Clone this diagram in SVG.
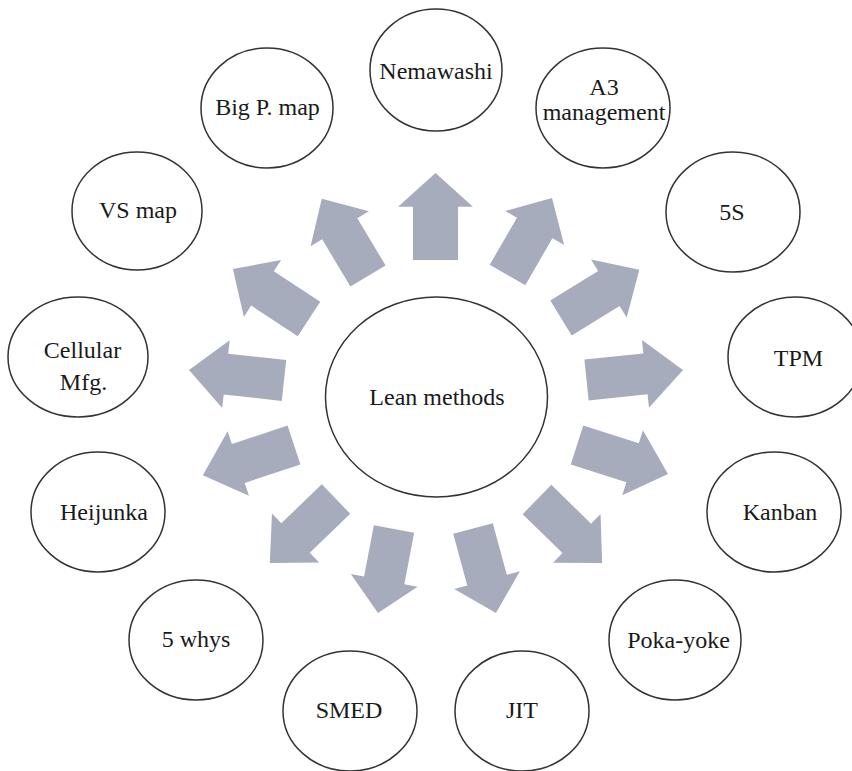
<svg xmlns="http://www.w3.org/2000/svg" xmlns:xlink="http://www.w3.org/1999/xlink" width="852" height="771" viewBox="0 0 852 771">
  <style>
    .node ellipse { fill: #ffffff; stroke: #333333; stroke-width: 1.5; }
    .node text { font-family: "Liberation Serif", "Times New Roman", serif; font-size: 24px; fill: #1a1a1a; text-anchor: middle; }
    .arrow { fill: #a6acbc; }
  </style>
  <defs>
    <!-- block arrow, tail at origin, pointing along +x -->
    <path id="blockArrow" d="M0,-20.5 H55 V-34 L90,0 L55,34 V20.5 H0 Z"/>
  </defs>
  <rect width="852" height="771" fill="#ffffff"/>

  <g id="connectors" class="arrow">
    <use xlink:href="#blockArrow" transform="translate(435.5,260) rotate(-90) scale(0.967,1.1)"/>
    <use xlink:href="#blockArrow" transform="translate(507.5,275) rotate(-60) scale(0.989,1)"/>
    <use xlink:href="#blockArrow" transform="translate(561,318) rotate(-31.6) scale(1.022,1)"/>
    <use xlink:href="#blockArrow" transform="translate(586.5,380) rotate(-5.9) scale(1.078,1)"/>
    <use xlink:href="#blockArrow" transform="translate(577,445) rotate(17.7) scale(1.061,1)"/>
    <use xlink:href="#blockArrow" transform="translate(537,499.5) rotate(44.3) scale(1.011,1)"/>
    <use xlink:href="#blockArrow" transform="translate(473,528.5) rotate(74.8) scale(0.973,1)"/>
    <use xlink:href="#blockArrow" transform="translate(394,529) rotate(100.8) scale(0.95,1)"/>
    <use xlink:href="#blockArrow" transform="translate(336,499) rotate(136) scale(1.022,1)"/>
    <use xlink:href="#blockArrow" transform="translate(294,445) rotate(161.7) scale(1.067,1)"/>
    <use xlink:href="#blockArrow" transform="translate(284,380.5) rotate(-173.7) scale(1.062,1)"/>
    <use xlink:href="#blockArrow" transform="translate(309,319) rotate(-146.7) scale(1.011,1)"/>
    <use xlink:href="#blockArrow" transform="translate(368,276) rotate(-120.9)"/>
  </g>

  <g id="lean-methods" class="node">
    <ellipse cx="436.5" cy="397" rx="111" ry="100"/>
    <text x="437" y="405">Lean methods</text>
  </g>
  <g id="nemawashi" class="node">
    <ellipse cx="436" cy="70" rx="66" ry="61"/>
    <text x="436" y="79">Nemawashi</text>
  </g>
  <g id="a3-management" class="node">
    <ellipse cx="603" cy="108" rx="67" ry="60"/>
    <text x="604" y="95">A3</text>
    <text x="604" y="120">management</text>
  </g>
  <g id="five-s" class="node">
    <ellipse cx="733" cy="212" rx="67" ry="60"/>
    <text x="732" y="220">5S</text>
  </g>
  <g id="tpm" class="node">
    <ellipse cx="795" cy="357" rx="67" ry="60"/>
    <text x="798.5" y="366">TPM</text>
  </g>
  <g id="kanban" class="node">
    <ellipse cx="774" cy="512" rx="67" ry="60"/>
    <text x="780" y="520">Kanban</text>
  </g>
  <g id="poka-yoke" class="node">
    <ellipse cx="675" cy="640" rx="66" ry="60"/>
    <text x="678.5" y="648">Poka-yoke</text>
  </g>
  <g id="jit" class="node">
    <ellipse cx="522" cy="711" rx="67" ry="60"/>
    <text x="522" y="718">JIT</text>
  </g>
  <g id="smed" class="node">
    <ellipse cx="350" cy="711" rx="67" ry="60"/>
    <text x="349" y="718">SMED</text>
  </g>
  <g id="five-whys" class="node">
    <ellipse cx="196" cy="640" rx="67" ry="60"/>
    <text x="196" y="647">5 whys</text>
  </g>
  <g id="heijunka" class="node">
    <ellipse cx="98" cy="512" rx="67" ry="60"/>
    <text x="104" y="520">Heijunka</text>
  </g>
  <g id="cellular-mfg" class="node">
    <ellipse cx="78" cy="357" rx="70" ry="60"/>
    <text x="82.5" y="358">Cellular</text>
    <text x="83.5" y="390">Mfg.</text>
  </g>
  <g id="vs-map" class="node">
    <ellipse cx="137" cy="211" rx="65" ry="59"/>
    <text x="138" y="218">VS map</text>
  </g>
  <g id="big-p-map" class="node">
    <ellipse cx="267" cy="108" rx="66" ry="60"/>
    <text x="267.5" y="115">Big P. map</text>
  </g>
</svg>
